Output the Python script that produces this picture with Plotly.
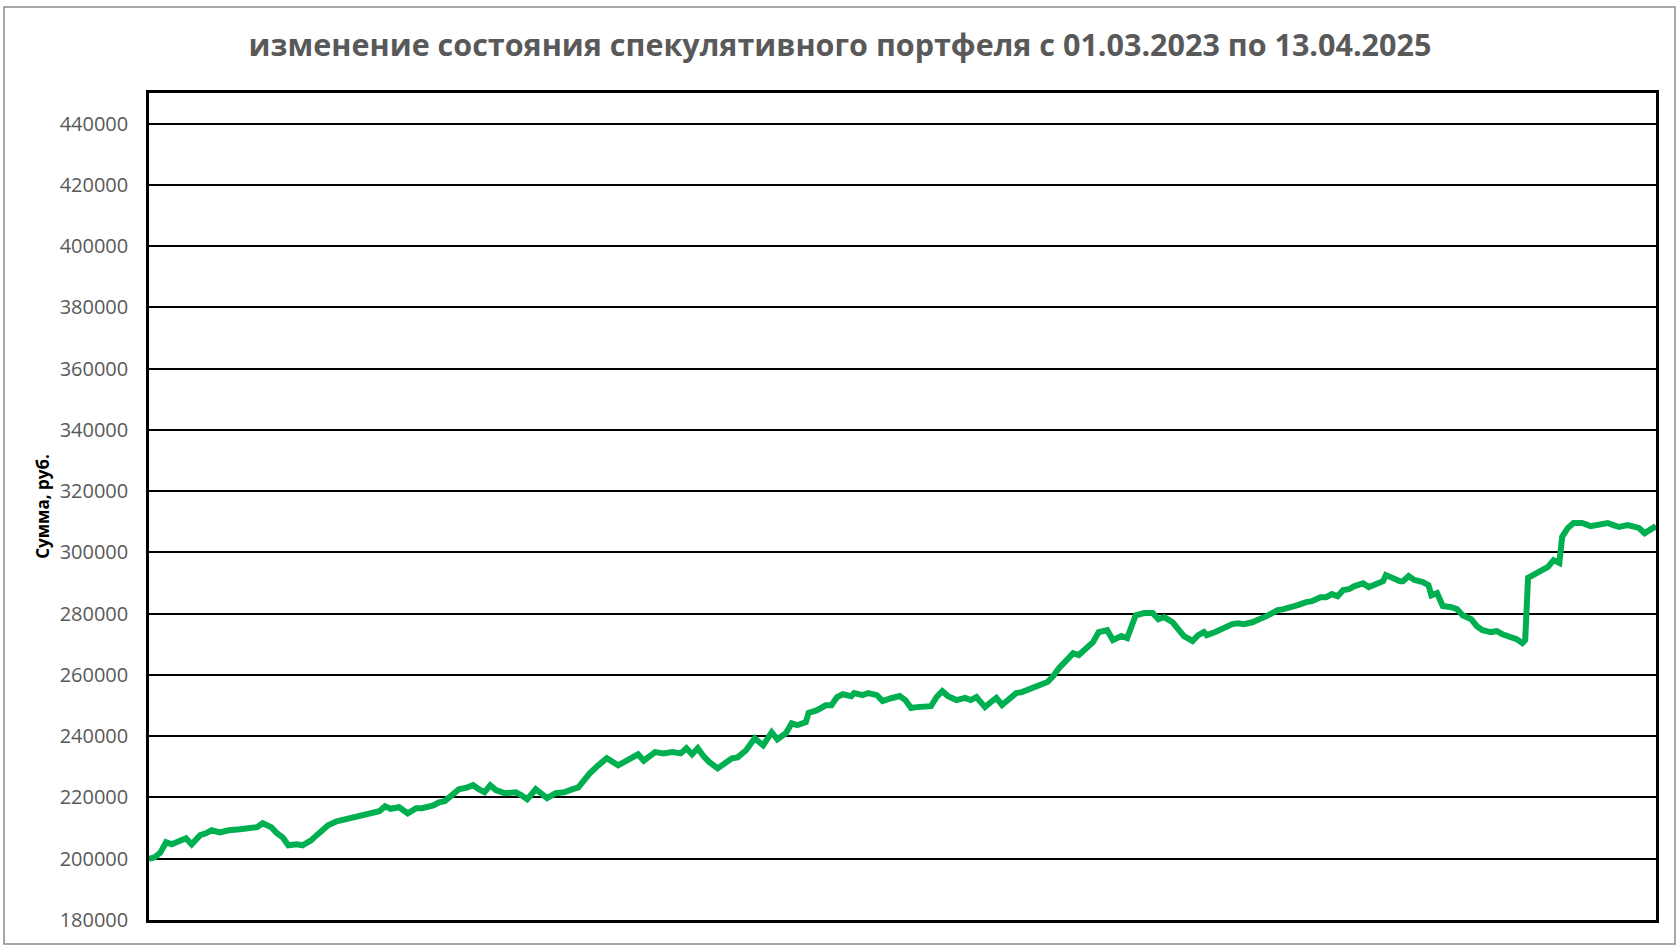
import plotly.graph_objects as go

# portfolio value by trading day
days = [0, 2, 4, 6, 8, 10, 13, 15, 18, 20, 22, 25, 28, 32, 36, 38, 40, 43, 45, 47,
        49, 52, 54, 57, 59, 63, 66, 69, 72, 75, 78, 81, 83, 85, 88, 91, 94, 96, 100, 102,
        104, 107, 109, 112, 114, 116, 118, 120, 122, 125, 129, 131, 133, 136, 140, 143, 146, 149, 151, 153,
        155, 158, 161, 165, 167, 170, 172, 174, 178, 181, 184, 187, 189, 191, 193, 195, 197, 200, 203, 205,
        207, 210, 213, 216, 219, 221, 224, 226, 228, 231, 232, 235, 238, 240, 242, 244, 247, 248, 251, 253,
        256, 258, 261, 264, 266, 268, 270, 272, 275, 277, 279, 281, 284, 287, 289, 291, 294, 296, 298, 300,
        303, 305, 307, 309, 311, 313, 316, 318, 320, 323, 325, 327, 330, 332, 334, 337, 339, 342, 344, 346,
        347, 350, 352, 353, 355, 357, 360, 362, 364, 367, 369, 371, 372, 375, 378, 381, 383, 385, 388, 391,
        393, 395, 397, 399, 401, 404, 407, 409, 412, 414, 416, 418, 420, 422, 424, 427, 429, 431, 434, 435,
        438, 440, 441, 443, 445, 448, 450, 451, 453, 455, 458, 460, 462, 465, 467, 469, 472, 474, 476, 479,
        481, 483, 484, 485, 487, 489, 492, 494, 496, 497, 499, 501, 504, 507, 510, 513, 515, 517, 520, 522,
        524, 526, 529, 530]

amount = [200000, 200500, 202000, 205400, 204700, 205400, 206700, 204700, 207700, 208300,
          209300, 208600, 209300, 209600, 210300, 210300, 211600, 210300, 208300, 207000,
          204400, 204700, 204400, 206000, 207700, 210900, 212200, 212900, 213900, 214500,
          215200, 215500, 217100, 216300, 216800, 214800, 216500, 216500, 217400, 218400,
          218800, 221000, 222700, 223300, 224000, 222700, 221700, 224000, 222400, 221400,
          221700, 220700, 219400, 222700, 219800, 221400, 221700, 222700, 223300, 225600,
          227900, 230500, 232800, 230500, 231600, 232800, 234100, 232000, 234800, 234400,
          234800, 234400, 236100, 234100, 236100, 233500, 231600, 229500, 231200, 232800,
          233100, 235400, 239300, 237000, 241300, 239000, 241000, 244200, 243600, 244600,
          247600, 248500, 250100, 250100, 252800, 253700, 253100, 254100, 253400, 254100,
          253400, 251500, 252400, 253100, 251800, 249200, 249500, 249500, 249800, 252800,
          254700, 253100, 251800, 252500, 251800, 252800, 249500, 251100, 252500, 250200,
          252800, 254100, 254400, 255100, 256000, 256400, 257700, 259600, 262200, 265100,
          267100, 266500, 268800, 270700, 274000, 274600, 271400, 272700, 272000, 276300,
          279500, 280200, 280500, 280200, 278200, 278900, 277200, 274900, 272700, 271100,
          273000, 274000, 273000, 274000, 275300, 276600, 276900, 276600, 277200, 278200,
          279200, 280200, 281200, 281500, 281900, 282800, 283800, 284100, 285400, 285400,
          286400, 285700, 287700, 288000, 289000, 289900, 288700, 289600, 290600, 292600,
          291300, 290600, 290600, 292300, 291000, 290300, 289300, 286000, 286700, 282500,
          282100, 281500, 279500, 278200, 275900, 274600, 274000, 274300, 273300, 272300,
          271700, 270400, 271400, 291700, 292600, 293600, 295300, 297500, 296600, 305100,
          308000, 309600, 309600, 308600, 309300, 309600, 308900, 308300, 308900, 308600,
          308000, 306300, 308300, 308600]

title_text = "изменение состояния спекулятивного портфеля с 01.03.2023 по 13.04.2025"
y_title = "Сумма, руб."

fig = go.Figure()
fig.add_trace(go.Scatter(x=days, y=amount, mode="lines",
                         line=dict(color="#00B050", width=6), showlegend=False))

fig.update_layout(
    width=1680, height=946,
    paper_bgcolor="white", plot_bgcolor="white",
    margin=dict(l=149, r=24, t=93, b=26),
    title=dict(text=title_text, x=0.5, xanchor="center", y=0.952, yanchor="middle",
               font=dict(family="Open Sans", size=30.5, color="#595959", weight="bold")),
    font=dict(family="Open Sans"),
)
fig.update_xaxes(range=[0, 530], showticklabels=False, showgrid=False, zeroline=False,
                 showline=True, linecolor="black", linewidth=2.5, mirror=True, ticks="")
fig.update_yaxes(range=[180000, 450000], tick0=180000, dtick=20000, tickformat="d",
                 showgrid=True, gridcolor="black", gridwidth=2.2, zeroline=False,
                 showline=True, linecolor="black", linewidth=2.5, mirror=True,
                 ticks="", ticklabelstandoff=14,
                 tickfont=dict(family="Open Sans", size=20, color="#595959"),
                 title=dict(text=y_title, standoff=6,
                            font=dict(family="Open Sans", size=17, color="black", weight="bold")))

# thin grey frame around the whole chart
fig.add_shape(type="rect", xref="paper", yref="paper",
              x0=-0.0962, x1=1.0126, y0=-0.029, y1=1.104,
              line=dict(color="#8c8c8c", width=1.5), layer="below")

fig.write_html("out.html", config={"displayModeBar": False},
               post_script="document.body.style.margin='0';document.body.style.overflow='hidden';")
